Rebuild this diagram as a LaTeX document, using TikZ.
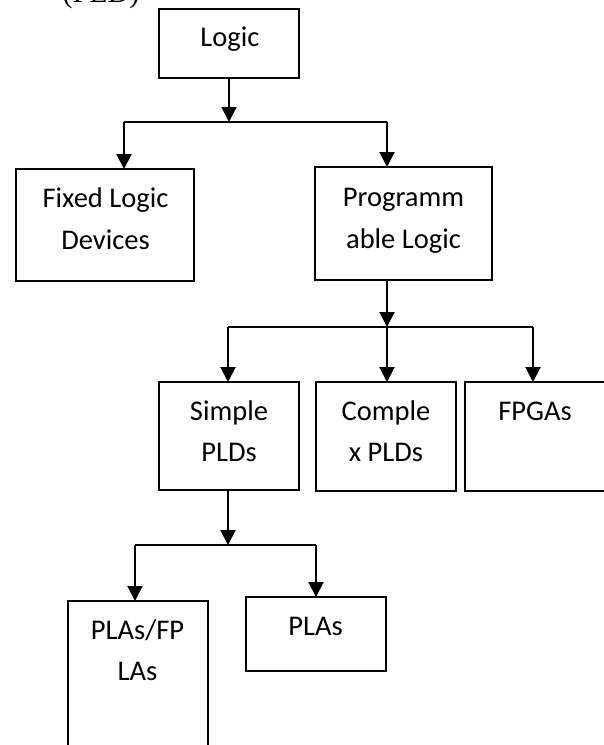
\documentclass[tikz,border=0pt]{standalone}
\usepackage{fontspec}
\setmainfont{Carlito}
\newfontfamily\timesf{Liberation Serif}
\usetikzlibrary{arrows.meta}
\begin{document}
\begin{tikzpicture}[x=1pt,y=-1pt,
  box/.style={draw, line width=1.4pt, inner sep=0pt, outer sep=0pt, minimum width=140pt},
  txt/.style={anchor=base, inner sep=0pt, font=\fontsize{28.5}{34}\selectfont},
  conn/.style={line width=2pt},
  arr/.style={line width=2pt, -{Triangle[width=15pt,length=15pt]}}]
\useasboundingbox (0,0) rectangle (603,745);
% partially visible title
\node[anchor=base, inner sep=0pt, font=\timesf\fontsize{30}{36}\selectfont] (title) at (101,2.5) {(PLD)};
% boxes
\node[box, minimum height=69pt] (logic) at (229,43.5) {};
\node[box, minimum width=178pt, minimum height=112pt] (fixed) at (105,225) {};
\node[box, minimum width=177pt, minimum height=113pt] (prog) at (403.5,223.5) {};
\node[box, minimum height=108pt] (simple) at (229,436) {};
\node[box, minimum height=109pt] (complex) at (386,436.5) {};
\node[box, minimum height=109pt] (fpga) at (535,436.5) {};
\node[box, minimum height=160pt] (plafpla) at (138,681) {};
\node[box, minimum height=74pt] (plas) at (316,634) {};
% texts
\node[txt] (t1) at (230,46) {Logic};
\node[txt] (t2a) at (105.5,207) {Fixed Logic};
\node[txt] (t2b) at (105.5,249) {Devices};
\node[txt] (t3a) at (403.5,206) {Programm};
\node[txt] (t3b) at (403.5,248) {able Logic};
\node[txt] (t4a) at (229,420) {Simple};
\node[txt] (t4b) at (229,461) {PLDs};
\node[txt] (t5a) at (386,420) {Comple};
\node[txt] (t5b) at (386,461) {x PLDs};
\node[txt] (t6) at (535,420) {FPGAs};
\node[txt] (t7a) at (137.5,639) {PLAs/FP};
\node[txt] (t7b) at (137.5,680) {LAs};
\node[txt] (t8) at (315.5,635) {PLAs};
% junctions
\coordinate (j1) at (229,122);
\coordinate (j1l) at (124,122);
\coordinate (j1r) at (387,122);
\coordinate (j2) at (387,327);
\coordinate (j2l) at (228,327);
\coordinate (j2r) at (533,327);
\coordinate (j3) at (228,545);
\coordinate (j3l) at (135,545);
\coordinate (j3r) at (316,545);
% connectors
\draw[arr] (logic.south) -- (j1);
\draw[conn] (j1l) -- (j1r);
\draw[arr] (j1l) -- (j1l |- fixed.north);
\draw[arr] (j1r) -- (j1r |- prog.north);
\draw[arr] (j2 |- prog.south) -- (j2);
\draw[conn] (j2l) -- (j2r);
\draw[arr] (j2l) -- (j2l |- simple.north);
\draw[arr] (j2) -- (j2 |- complex.north);
\draw[arr] (j2r) -- (j2r |- fpga.north);
\draw[arr] (j3 |- simple.south) -- (j3);
\draw[conn] (j3l) -- (j3r);
\draw[arr] (j3l) -- (j3l |- plafpla.north);
\draw[arr] (j3r) -- (j3r |- plas.north);
\end{tikzpicture}
\end{document}
